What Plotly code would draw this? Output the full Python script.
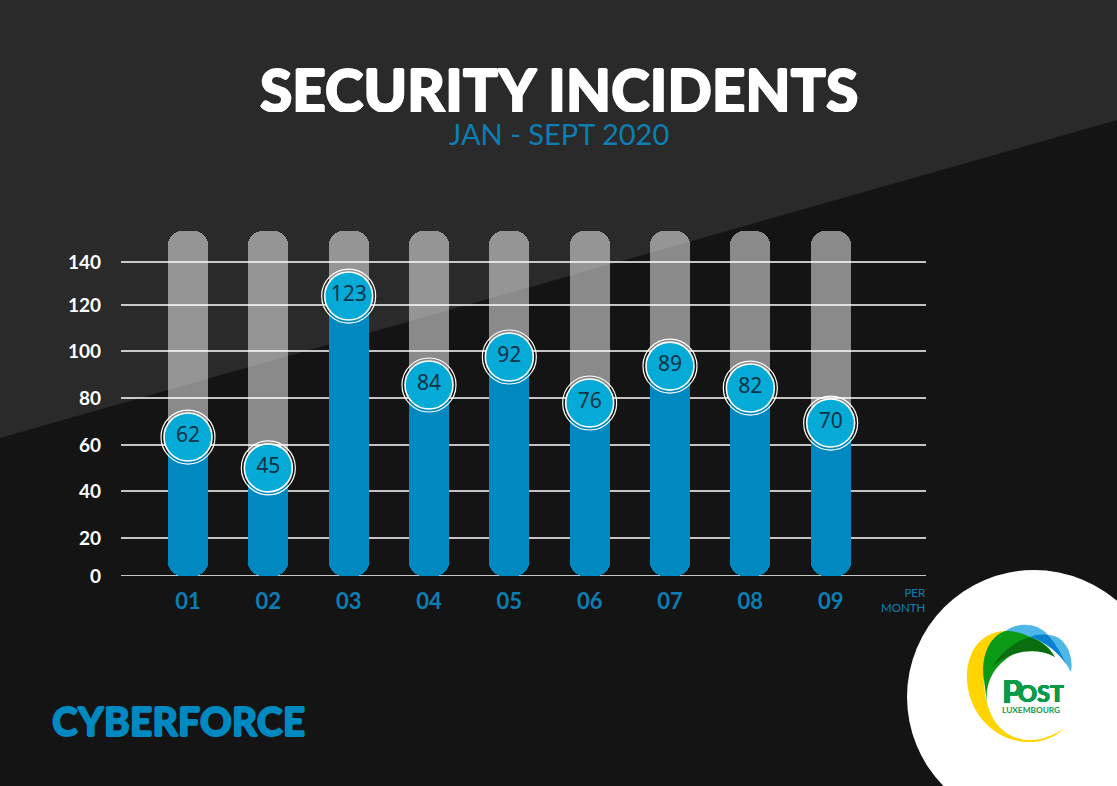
import plotly.graph_objects as go

# ---- data ----
months = ["01", "02", "03", "04", "05", "06", "07", "08", "09"]
incidents = [62, 45, 123, 84, 92, 76, 89, 82, 70]
# height of each marker above the baseline, in chart units as drawn in the infographic
marker_heights = [59.5, 46.3, 119.9, 81.8, 93.8, 74.1, 89.9, 80.5, 65.5]
track_height = [147.8] * 9
tick_labels = ["0", "20", "40", "60", "80", "100", "120", "140"]
# the gridlines of this infographic are not evenly spaced; positions as drawn
tick_positions = [0, 16.3, 36.4, 56.1, 76.2, 96.4, 116.1, 134.5]
foot_height = [20] * 9
shaft_base = [8] * 9

BLUE = "#0088c0"
CYAN = "#06aad6"
TEXTBLUE = "#0b7fb4"
DARK = "#141414"
GREEN = "#0a9a48"
W, H = 1117, 786


def px(x):
    return x / W


def py(y):
    return 1 - y / H


def pth(*segs):
    """Build a paper-coordinate SVG path from pixel-based segments of the logo artwork."""
    out = []
    for cmd, *pts in segs:
        out.append(cmd + " " + " ".join(f"{px(a)} {py(b)}" for a, b in pts))
    return " ".join(out) + " Z"


x_pos = list(range(len(months)))
x_range = [-0.834, 9.187]
y_range = [0, (576 - 226) / 2.335]

fig = go.Figure()

# grey tracks (below the gridlines)
fig.add_trace(go.Bar(
    x=x_pos, y=[t - c for t, c in zip(track_height, foot_height)], base=foot_height,
    width=0.498, marker=dict(color="rgba(255,255,255,0.5)", line_width=0, cornerradius=14),
    hoverinfo="skip", showlegend=False, xaxis="x", yaxis="y"))

# gridlines
for pos in tick_positions:
    fig.add_trace(go.Scatter(
        x=x_range, y=[pos, pos], mode="lines", line=dict(color="#ffffff", width=1.5),
        hoverinfo="skip", showlegend=False, xaxis="x", yaxis="y", cliponaxis=False))

# blue bars, on the overlaid axes so they cover the gridlines: a rounded foot plus a square shaft
fig.add_trace(go.Bar(
    x=x_pos, y=foot_height, base=[0] * 9,
    width=0.498, marker=dict(color=BLUE, line_width=0, cornerradius=14),
    showlegend=False, hoverinfo="skip", xaxis="x2", yaxis="y2"))
fig.add_trace(go.Bar(
    x=x_pos, y=[m - b for m, b in zip(marker_heights, shaft_base)], base=shaft_base,
    width=0.498, marker=dict(color=BLUE, line_width=0),
    showlegend=False, hoverinfo="skip", xaxis="x2", yaxis="y2"))

# ringed value markers: an open outer ring, then the filled disc with its own white ring
fig.add_trace(go.Scatter(
    x=x_pos, y=marker_heights, mode="markers",
    marker=dict(size=54, color="rgba(0,0,0,0)", line=dict(color="#ffffff", width=1.2)),
    hoverinfo="skip", showlegend=False, xaxis="x2", yaxis="y2"))
fig.add_trace(go.Scatter(
    x=x_pos, y=marker_heights, mode="markers",
    marker=dict(size=48, color=CYAN, line=dict(color="#ffffff", width=1.6)),
    hoverinfo="skip", showlegend=False, xaxis="x2", yaxis="y2"))
fig.add_trace(go.Scatter(
    x=x_pos, y=marker_heights, mode="text", text=[str(v) for v in incidents],
    textposition="middle center",
    textfont=dict(family="Noto Sans", size=21, color="#0c3346"),
    showlegend=False, hovertext=[f"{m}: {v}" for m, v in zip(months, incidents)],
    hoverinfo="text", xaxis="x2", yaxis="y2"))

dom_x = [px(121), px(926)]
dom_y = [py(576), py(226)]
THICK = lambda c, d=0.7: (f"{d}px 0 {c}, -{d}px 0 {c}, 0 {d}px {c}, 0 -{d}px {c}")

logo = [
    ("#ffd400", [("M", (1004, 631)), ("C", (978, 633), (966, 655), (967, 680)),
                 ("C", (969, 718), (1000, 744), (1033, 742)),
                 ("C", (1046, 741), (1056, 736), (1064, 729)),
                 ("C", (1050, 737), (1040, 740), (1031, 740)),
                 ("C", (1005, 740), (992, 722), (987, 703)),
                 ("C", (980, 675), (985, 645), (1004, 631))]),
    ("#4db8e8", [("M", (1005, 632)), ("C", (1012, 624), (1035, 620), (1048, 635)),
                 ("C", (1065, 635), (1074, 655), (1071, 672)),
                 ("C", (1062, 655), (1048, 642), (1030, 637)),
                 ("C", (1020, 634), (1012, 633), (1005, 632))]),
    ("#0a9a16", [("M", (1005, 631)), ("C", (985, 638), (981, 665), (984, 680)),
                 ("L", (987, 703)), ("C", (985, 680), (995, 664), (1017, 652)),
                 ("C", (1030, 646), (1045, 650), (1055, 657)),
                 ("C", (1048, 645), (1040, 640), (1030, 637)),
                 ("C", (1020, 632), (1012, 631), (1005, 631))]),
    ("#0a6e10", [("M", (1030, 637)), ("C", (1018, 640), (1000, 652), (992, 668)),
                 ("C", (1002, 656), (1030, 644), (1055, 657)),
                 ("C", (1048, 646), (1040, 641), (1030, 637))]),
    ("#0a80d0", [("M", (1030, 637)), ("C", (1036, 634), (1044, 634), (1048, 635)),
                 ("C", (1056, 644), (1062, 655), (1066, 664)),
                 ("C", (1058, 652), (1044, 641), (1030, 637))]),
]
shapes = [
    dict(type="path", xref="paper", yref="paper", layer="below", line_width=0,
         fillcolor="#2a2a2a", path=f"M 0 1 L 1 1 L 1 {py(120)} L 0 {py(438)} Z"),
    dict(type="circle", xref="paper", yref="paper", layer="above", line_width=0,
         fillcolor="#ffffff", x0=px(907), x1=px(1161), y0=py(824), y1=py(570)),
]
for color, segs in logo:
    shapes.append(dict(type="path", xref="paper", yref="paper", layer="above", line_width=0,
                       fillcolor=color, path=pth(*segs)))

fig.update_layout(
    width=W, height=H, margin=dict(l=0, r=0, t=0, b=0),
    paper_bgcolor=DARK, plot_bgcolor="rgba(0,0,0,0)", barmode="overlay", bargap=0,
    font=dict(family="Lato"),
    xaxis=dict(domain=dom_x, range=x_range, tickvals=x_pos, ticktext=months, showgrid=False,
               zeroline=False, showline=False, ticks="", ticklabelstandoff=10, automargin=False,
               tickfont=dict(family="Lato", size=22, color=TEXTBLUE, weight=700)),
    yaxis=dict(domain=dom_y, range=y_range, tickvals=tick_positions, ticktext=tick_labels,
               showgrid=False, zeroline=False, showline=False, ticks="", ticklabelstandoff=19,
               automargin=False,
               tickfont=dict(family="Lato", size=19, color="#ffffff", weight=700)),
    xaxis2=dict(domain=dom_x, range=x_range, overlaying="x", visible=False, automargin=False),
    yaxis2=dict(domain=dom_y, range=y_range, overlaying="y", visible=False, automargin=False),
    shapes=shapes,
    annotations=[
        dict(text="SECURITY INCIDENTS", xref="paper", yref="paper", x=px(559), y=py(89),
             xanchor="center", yanchor="middle", showarrow=False, height=46,
             font=dict(family="Lato", size=58.5, color="#ffffff", weight=900,
                       shadow=THICK("#ffffff", 0.9))),
        dict(text="JAN - SEPT 2020", xref="paper", yref="paper", x=px(559), y=py(133),
             xanchor="center", yanchor="middle", showarrow=False, height=26,
             font=dict(family="Lato", size=29, color=TEXTBLUE)),
        dict(text="PER<br>MONTH", xref="paper", yref="paper", x=px(928), y=py(600),
             xanchor="right", yanchor="middle", align="right", showarrow=False,
             font=dict(family="Lato", size=11.5, color=TEXTBLUE)),
        dict(text="CYBERFORCE", xref="paper", yref="paper", x=px(50), y=py(720),
             xanchor="left", yanchor="middle", showarrow=False,
             font=dict(family="Lato", size=39.3, color=BLUE, weight=900, shadow=THICK(BLUE, 0.8))),
        dict(text="P", xref="paper", yref="paper", height=24,
             x=px(1000), y=py(691), xanchor="left", yanchor="middle", showarrow=False,
             font=dict(family="Lato", size=33, color=GREEN, weight=900, shadow=THICK(GREEN, 0.4))),
        dict(text="OST", xref="paper", yref="paper", height=20,
             x=px(1016), y=py(693), xanchor="left", yanchor="middle", showarrow=False,
             font=dict(family="Lato", size=23.5, color=GREEN, weight=900, shadow=THICK(GREEN, 0.4))),
        dict(text="LUXEMBOURG", xref="paper", yref="paper", x=px(1031), y=py(709.5),
             xanchor="center", yanchor="middle", showarrow=False, height=9,
             font=dict(family="Lato", size=8.3, color=GREEN, weight=700)),
    ],
)

fig.write_html("out.html", config=dict(displayModeBar=False),
               post_script="document.body.style.margin='0';document.body.style.overflow='hidden';")
